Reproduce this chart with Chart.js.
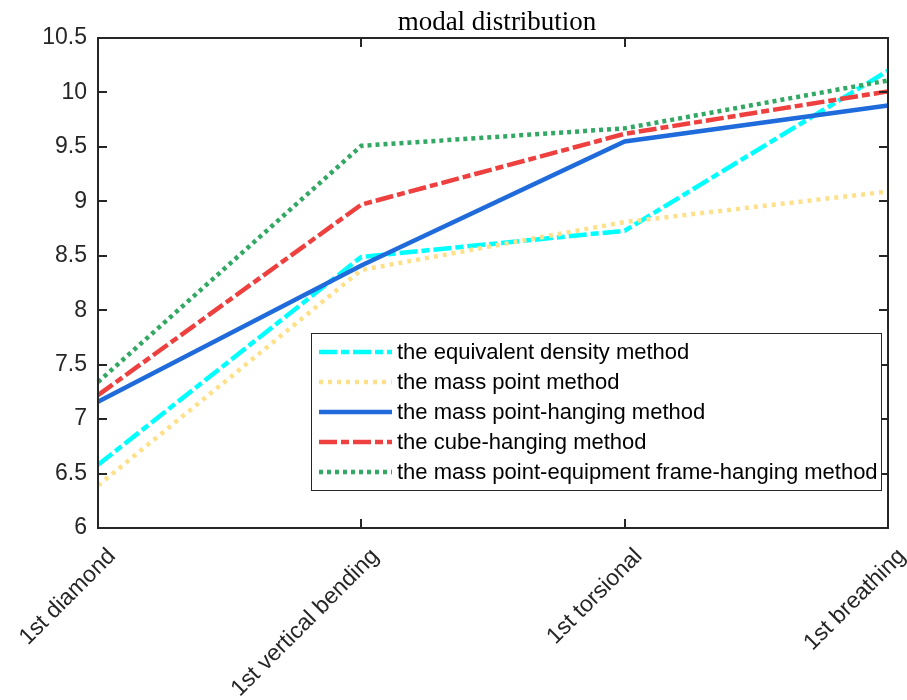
<!DOCTYPE html>
<html>
<head>
<meta charset="utf-8">
<script src="https://cdn.jsdelivr.net/npm/chart.js@4/dist/chart.umd.min.js"></script>
<style>
  html, body { margin: 0; padding: 0; background: #fff; }
  #wrap { width: 907px; height: 700px; }
</style>
</head>
<body>
<div id="wrap"><canvas id="modal-chart" width="907" height="700"></canvas></div>
<script>
// Data
const categories = ['1st diamond', '1st vertical bending', '1st torsional', '1st breathing'];
const equivalentDensity = [6.58, 8.49, 8.73, 10.20];
const massPoint         = [6.39, 8.37, 8.81, 9.09];
const massPointHanging  = [7.16, 8.41, 9.55, 9.88];
const cubeHanging       = [7.22, 8.97, 9.62, 10.01];
const equipmentFrame    = [7.34, 9.51, 9.67, 10.11];
const yTicks = [6, 6.5, 7, 7.5, 8, 8.5, 9, 9.5, 10, 10.5];

const seriesNames = [
  'the equivalent density method',
  'the mass point method',
  'the mass point-hanging method',
  'the cube-hanging method',
  'the mass point-equipment frame-hanging method'
];

const AXIS = '#262626';
const SANS = '"Liberation Sans", Arial, sans-serif';

// MATLAB-style box with inward ticks on all four sides
const boxPlugin = {
  id: 'box',
  afterDraw (chart) {
    const { ctx, chartArea: a, scales: { x, y } } = chart;
    ctx.save();
    ctx.strokeStyle = AXIS;
    ctx.lineWidth = 2;
    ctx.strokeRect(a.left, a.top, a.right - a.left, a.bottom - a.top);
    ctx.beginPath();
    y.ticks.forEach((t, i) => {
      const py = Math.round(y.getPixelForTick(i));
      ctx.moveTo(a.left, py);  ctx.lineTo(a.left + 9, py);
      ctx.moveTo(a.right, py); ctx.lineTo(a.right - 9, py);
    });
    x.ticks.forEach((t, i) => {
      const px = Math.round(x.getPixelForTick(i));
      ctx.moveTo(px, a.bottom); ctx.lineTo(px, a.bottom - 9);
      ctx.moveTo(px, a.top);    ctx.lineTo(px, a.top + 9);
    });
    ctx.stroke();

    // title
    ctx.fillStyle = '#000';
    ctx.font = '27px "Liberation Serif", "Times New Roman", serif';
    ctx.textAlign = 'center';
    ctx.textBaseline = 'alphabetic';
    ctx.fillText('modal distribution', (a.left + a.right) / 2 + 4, 30);

    // legend inside the plot, lower right
    const lx = a.right - 577, ly = a.bottom - 195, lw = 570, lh = 157;
    ctx.fillStyle = '#fff';
    ctx.fillRect(lx, ly, lw, lh);
    ctx.lineWidth = 1;
    ctx.strokeStyle = AXIS;
    ctx.strokeRect(lx + 0.5, ly + 0.5, lw, lh);
    ctx.font = '22px ' + SANS;
    ctx.textAlign = 'left';
    ctx.textBaseline = 'middle';
    chart.data.datasets.forEach((ds, i) => {
      const ry = ly + 19 + i * 30;
      ctx.beginPath();
      ctx.strokeStyle = ds.borderColor;
      ctx.lineWidth = ds.borderWidth;
      ctx.setLineDash(ds.borderDash || []);
      ctx.moveTo(lx + 8, ry);
      ctx.lineTo(lx + 81, ry);
      ctx.stroke();
      ctx.setLineDash([]);
      ctx.fillStyle = '#000';
      ctx.fillText(ds.label, lx + 86, ry + 1);
    });
    ctx.restore();
  }
};

function line (i, data, color, dash, width) {
  return {
    label: seriesNames[i],
    data,
    borderColor: color,
    backgroundColor: color,
    borderDash: dash,
    borderWidth: width,
    borderCapStyle: 'butt',
    pointRadius: 0,
    tension: 0,
    fill: false,
    order: 4 - i
  };
}

new Chart(document.getElementById('modal-chart'), {
  type: 'line',
  data: {
    labels: categories,
    datasets: [
      line(0, equivalentDensity, '#00FFFF', [18, 4, 8, 4], 4.5),
      line(1, massPoint, '#FFE08A', [4, 5], 4.5),
      line(2, massPointHanging, '#1F6BDB', [], 4.5),
      line(3, cubeHanging, '#EF4040', [18, 4, 8, 4], 4.5),
      line(4, equipmentFrame, '#33A864', [4, 4], 4.5)
    ]
  },
  options: {
    responsive: false,
    devicePixelRatio: 1,
    animation: false,
    layout: { padding: { top: 38, right: 19, left: 0, bottom: 0 } },
    plugins: { legend: { display: false }, tooltip: { enabled: false }, title: { display: false } },
    scales: {
      x: {
        type: 'category',
        offset: false,
        grid: { display: false, drawTicks: false },
        border: { display: false },
        ticks: {
          autoSkip: false,
          maxRotation: 45,
          minRotation: 45,
          labelOffset: 14,
          padding: 15,
          color: AXIS,
          font: { family: SANS, size: 23 }
        },
        afterFit (scale) {
          scale.height = 172;
          scale.paddingLeft = 0;
          scale.paddingRight = 0;
        }
      },
      y: {
        min: 6,
        max: 10.5,
        afterBuildTicks (scale) { scale.ticks = yTicks.map(v => ({ value: v })); },
        grid: { display: false, drawTicks: false },
        border: { display: false },
        ticks: {
          padding: 11,
          color: AXIS,
          font: { family: SANS, size: 23 },
          callback: v => String(v)
        },
        afterFit (scale) {
          scale.width = 98;
          scale.paddingTop = 0;
          scale.paddingBottom = 0;
        }
      }
    }
  },
  plugins: [boxPlugin]
});
</script>
</body>
</html>
